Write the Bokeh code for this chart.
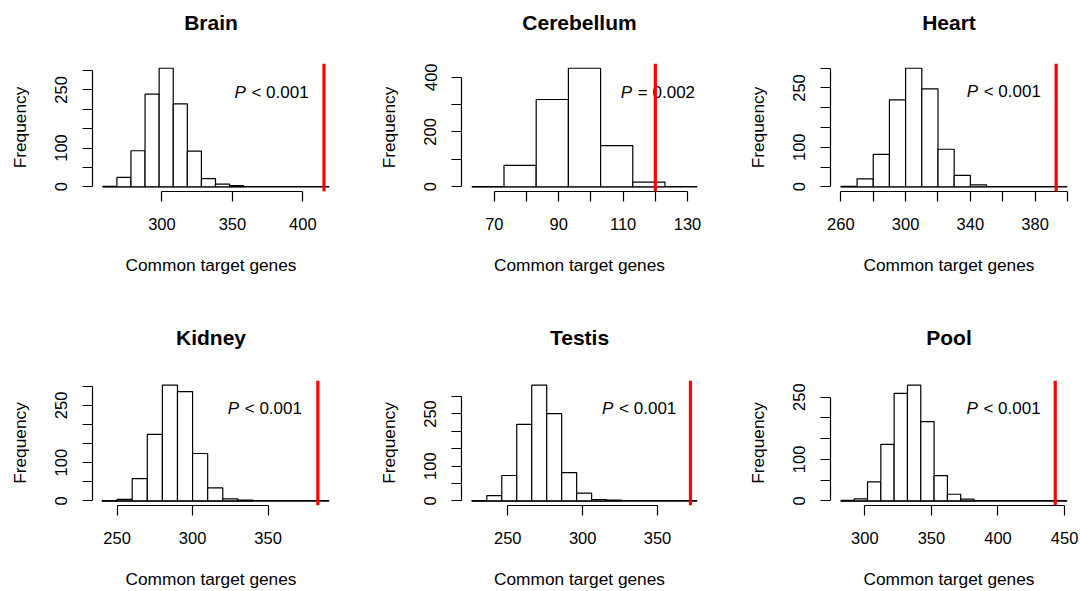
from bokeh.plotting import figure
from bokeh.layouts import row, column
from bokeh.models import FixedTicker, Span, Range1d, ColumnDataSource
from bokeh.embed import file_html
from bokeh.resources import INLINE
from bokeh.core.properties import value

# ---------------- data ----------------
tissues = ["Brain", "Cerebellum", "Heart", "Kidney", "Testis", "Pool"]

brain_breaks = [258, 268, 278, 288, 298, 308, 318, 328, 338, 348, 358]
brain_counts = [1, 24, 93, 239, 306, 214, 92, 21, 7, 3]
cerebellum_breaks = [63, 73, 83, 93, 103, 113, 123]
cerebellum_counts = [0, 78, 318, 432, 150, 17]
heart_breaks = [260, 270, 280, 290, 300, 310, 320, 330, 340, 350]
heart_counts = [1, 20, 82, 220, 300, 248, 95, 29, 5]
kidney_breaks = [240, 250, 260, 270, 280, 290, 300, 310, 320, 330, 340]
kidney_counts = [1, 4, 58, 174, 303, 286, 124, 34, 5, 2]
testis_breaks = [226, 236, 246, 256, 266, 276, 286, 296, 306, 316, 326]
testis_counts = [1, 15, 73, 220, 333, 251, 81, 22, 4, 2]
pool_breaks = [282, 292, 302, 312, 322, 332, 342, 352, 362, 372, 382]
pool_counts = [1, 5, 46, 136, 259, 279, 191, 61, 16, 4]

observed = [415, 120, 393, 383, 372, 443]
p_signs = ["<", "=", "<", "<", "<", "<"]
p_values = ["0.001", "0.002", "0.001", "0.001", "0.001", "0.001"]

# axis limits (x) as drawn in the reference
x_limits = [(250.7, 418.9), (59.8, 133.1), (253.6, 400.0),
            (233.7, 390.7), (219.1, 376.7), (274.2, 452.2)]

x_ticks = [[300, 350, 400],
           [70, 80, 90, 100, 110, 120, 130],
           [260, 280, 300, 320, 340, 360, 380, 400],
           [250, 300, 350],
           [250, 300, 350],
           [300, 350, 400, 450]]
x_tick_labels = [["300", "350", "400"],
                 ["70", "", "90", "", "110", "", "130"],
                 ["260", "", "300", "", "340", "", "380", ""],
                 ["250", "300", "350"],
                 ["250", "300", "350"],
                 ["300", "350", "400", "450"]]
y_ticks = [[0, 50, 100, 150, 200, 250, 300],
           [0, 100, 200, 300, 400],
           [0, 50, 100, 150, 200, 250, 300],
           [0, 50, 100, 150, 200, 250, 300],
           [0, 50, 100, 150, 200, 250, 300],
           [0, 50, 100, 150, 200, 250]]
y_tick_labels = [["0", "", "100", "", "", "250", ""],
                 ["0", "", "200", "", "400"],
                 ["0", "", "100", "", "", "250", ""],
                 ["0", "", "100", "", "", "250", ""],
                 ["0", "", "100", "", "", "250", ""],
                 ["0", "", "100", "", "", "250"]]

# anchor of the "P ..." annotation (left edge of P, baseline), data units
p_anchor_x = [351.4, 109.3, 337.7, 323.3, 313.0, 376.3]
p_anchor_y = [244, 345, 240, 241, 266, 223]

x_title = "Common target genes"
y_title = "Frequency"

all_breaks = [brain_breaks, cerebellum_breaks, heart_breaks,
              kidney_breaks, testis_breaks, pool_breaks]
all_counts = [brain_counts, cerebellum_counts, heart_counts,
              kidney_counts, testis_counts, pool_counts]

# ---------------- layout ----------------
FONT = "Liberation Sans"
fig_w = [360, 360, 360]
fig_h = [295, 296]
border_left = [92, 101, 110]
frame_w = [237, 236, 237]
border_top = [63, 85]      # height of the title strip above each plot region
frame_h = 128
title_standoff = [16, 57]  # places the title baseline ~33px above the plot region


def make_title(i):
    c, r = i % 3, i // 3
    W, TH = fig_w[c], border_top[r]
    t = figure(width=W, height=TH, x_range=Range1d(0, 1), y_range=Range1d(0, 1),
               x_axis_type=None, y_axis_type=None, title=tissues[i],
               output_backend="svg", toolbar_location=None,
               min_border_left=border_left[c],
               min_border_right=W - border_left[c] - frame_w[c],
               min_border_top=0, min_border_bottom=0)
    t.grid.visible = False
    t.outline_line_color = None
    t.background_fill_color = "white"
    t.border_fill_color = "white"
    tt = t.title
    tt.align = "center"
    tt.vertical_align = "bottom"
    tt.standoff = title_standoff[r]
    tt.text_font = FONT
    tt.text_font_size = "21px"
    tt.text_font_style = "bold"
    tt.text_color = "black"
    return t


def make_panel(i):
    c, r = i % 3, i // 3
    breaks = all_breaks[i]
    counts = all_counts[i]
    m = max(counts)
    W, H = fig_w[c], fig_h[r] - border_top[r]
    x0, x1 = x_limits[i]
    y0, y1 = -0.04 * m, 1.04 * m
    p = figure(width=W, height=H,
               x_range=Range1d(x0, x1),
               y_range=Range1d(y0, y1),
               title=None,
               output_backend="svg", toolbar_location=None,
               min_border_left=border_left[c],
               min_border_right=W - border_left[c] - frame_w[c],
               min_border_top=0,
               min_border_bottom=H - frame_h)
    p.outline_line_color = None
    p.background_fill_color = "white"
    p.border_fill_color = "white"
    p.xgrid.visible = False
    p.ygrid.visible = False

    src = ColumnDataSource(dict(left=breaks[:-1], right=breaks[1:],
                                top=counts, bottom=[0] * len(counts)))
    p.segment(x0=breaks[0], x1=x1, y0=0, y1=0,
              line_color="black", line_width=1.6)
    p.quad(left="left", right="right", top="top", bottom="bottom", source=src,
           fill_color="white", line_color="black", line_width=1.2)

    p.text(x=[p_anchor_x[i]], y=[p_anchor_y[i]], text=["P"],
           text_font=value(FONT), text_font_size="17px",
           text_font_style="italic", text_baseline="alphabetic",
           text_align="left", text_color="black")
    p.text(x=[p_anchor_x[i]], y=[p_anchor_y[i]],
           text=[p_signs[i] + " " + p_values[i]],
           x_offset=17, text_font=value(FONT), text_font_size="17px",
           text_baseline="alphabetic", text_align="left", text_color="black")

    p.add_layout(Span(location=observed[i], dimension="height",
                      line_color="#ff0000", line_width=3.2))

    xa = p.xaxis[0]
    xa.ticker = FixedTicker(ticks=x_ticks[i])
    xa.major_label_overrides = {k: v for k, v in zip(x_ticks[i], x_tick_labels[i])}
    xa.bounds = (x_ticks[i][0], x_ticks[i][-1])
    ya = p.yaxis[0]
    ya.ticker = FixedTicker(ticks=y_ticks[i])
    ya.major_label_overrides = {k: v for k, v in zip(y_ticks[i], y_tick_labels[i])}
    ya.bounds = (y_ticks[i][0], y_ticks[i][-1])
    ya.major_label_orientation = "vertical"

    for ax in (xa, ya):
        ax.axis_line_color = "black"
        ax.axis_line_width = 1.2
        ax.major_tick_line_color = "black"
        ax.major_tick_line_width = 1.2
        ax.major_tick_out = 10
        ax.major_tick_in = 0
        ax.minor_tick_line_color = None
        ax.major_label_text_font = FONT
        ax.major_label_text_font_size = "16.5px"
        ax.major_label_text_color = "black"
        ax.axis_label_text_font = FONT
        ax.axis_label_text_font_size = "17.3px"
        ax.axis_label_text_font_style = "normal"
        ax.axis_label_text_color = "black"
    xa.axis_label = x_title
    ya.axis_label = y_title
    xa.major_label_standoff = 16
    xa.axis_label_standoff = 22
    ya.major_label_standoff = 15
    ya.axis_label_standoff = 23
    return p


cells = [column(make_title(i), make_panel(i)) for i in range(6)]
layout = column(row(*cells[:3]), row(*cells[3:]))
open("out.html", "w").write(file_html(layout, INLINE))
